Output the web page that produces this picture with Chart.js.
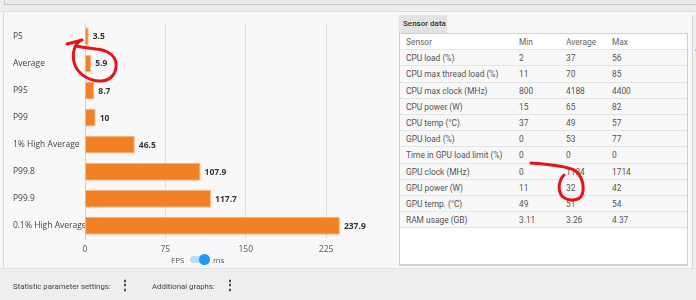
<!DOCTYPE html>
<html>
<head>
<meta charset="utf-8">
<title>Frametime statistics</title>
<script src="https://cdn.jsdelivr.net/npm/chart.js@4.4.0/dist/chart.umd.min.js"></script>
<style>
  body { margin: 0; width: 696px; height: 300px; overflow: hidden; position: relative;
         background: #f8f8f8; font-family: "Open Sans", sans-serif; }
  #topbar { position: absolute; left: 0; top: 0; width: 696px; height: 11px; background: #ededed;
            border-bottom: 1px solid #dcdcdc; }
  #topbar div { position: absolute; left: 4px; top: -1px; width: 700px; height: 5px;
                border-left: 1px solid #c8c8c8; border-bottom: 1px solid #c8c8c8; background: #eaeaea; }
  #leftline { position: absolute; left: 3px; top: 12px; width: 1px; height: 256px; background: #d6d6d6; }
  #chartBox { position: absolute; left: 0; top: 12px; }
  #toggle { position: absolute; top: 252px; left: 170px; height: 15px; font-size: 8px; color: #555;
            font-family: "Open Sans", sans-serif; }
  #toggle .fps { position: absolute; left: 1px; top: 2px; }
  #toggle .track { position: absolute; left: 20px; top: 4px; width: 20px; height: 7px; border-radius: 4px; background: #b9dcf8; }
  #toggle .knob { position: absolute; left: 29px; top: 2px; width: 11px; height: 11px; border-radius: 50%; background: #2196f3; }
  #toggle .ms { position: absolute; left: 43px; top: 2px; }
  #bottombar { position: absolute; left: 0; top: 268px; width: 696px; height: 32px; background: #eeeeee;
               border-top: 1px solid #e2e2e2; font-family: Roboto, sans-serif; font-size: 7.8px; color: #444; }
  #bottombar span { position: absolute; top: 13px; }
  #bottombar .dots { font-size: 12px; font-weight: bold; top: 9px; color: #333; }
  #tab { position: absolute; left: 399px; top: 15px; width: 48px; height: 18px; background: #e3e3e3;
         font-family: Roboto, sans-serif; font-size: 8px; color: #333; line-height: 18px; text-indent: 4px; font-weight: 500; }
  #table { position: absolute; left: 399px; top: 33px; width: 287px; height: 230px; background: #fff;
           border: 1px solid #cfcfcf; border-bottom: 2px solid #cfcfcf; font-family: Roboto, sans-serif; font-size: 8.4px; color: #555; }
  .row { position: absolute; left: 0; width: 287px; height: 16.2px; border-bottom: 1px solid #e4e4e4; box-sizing: border-box; background: #f8f8f8; }
  .row.head { background: #fff; color: #666; }
  .row span { position: absolute; top: 3px; }
  #rightpanel { position: absolute; left: 692px; top: 15px; width: 10px; height: 253px; background: #efefef;
                border-left: 1px solid #d4d4d4; }
  #rightpanel div { position: absolute; left: 2px; top: 34px; width: 3px; height: 2px; background: #b6e34a; }
  svg { position: absolute; left: 0; top: 0; }
</style>
</head>
<body>
<div id="topbar"><div></div></div>
<div id="leftline"></div>
<div id="chartBox"><canvas id="myChart" width="400" height="250"></canvas></div>
<div id="toggle"><span class="fps">FPS</span><div class="track"></div><div class="knob"></div><span class="ms">ms</span></div>
<div id="tab">Sensor data</div>
<div id="table"></div>
<div id="rightpanel"><div></div></div>
<div id="bottombar">
  <span style="left:13px">Statistic parameter settings:</span><span class="dots" style="left:119px">&#8942;</span>
  <span style="left:152px">Additional graphs:</span><span class="dots" style="left:224px">&#8942;</span>
</div>
<svg width="696" height="300">
  <path d="M67,44 C71,43 76,42 82,40 M80,41 C75,44 72,52 74,62 C76,72 88,82 102,81 C112,80 117,72 116,63 C115,55 107,50 96,49 C88,48 80,47 76,46"
        fill="none" stroke="#e3141b" stroke-width="3" stroke-linecap="round"/>
  <path d="M531,163 C545,164 563,165 574,170 C582,175 585,186 582,195 C579,201 568,202 562,196 C558,191 558,181 564,175"
        fill="none" stroke="#e3141b" stroke-width="3" stroke-linecap="round"/>
</svg>
<script>
// bar chart data (frametimes in ms)
const statLabels = ["P5", "Average", "P95", "P99", "1% High Average", "P99.8", "P99.9", "0.1% High Average"];
const msValues = [3.5, 5.9, 8.7, 10, 46.5, 107.9, 117.7, 237.9];
const xTicks = [0, 75, 150, 225];

// sensor table
const sensorHead = ["Sensor", "Min", "Average", "Max"];
const sensorNames = ["CPU load (%)", "CPU max thread load (%)", "CPU max clock (MHz)", "CPU power (W)",
  "CPU temp (°C)", "GPU load (%)", "Time in GPU load limit (%)", "GPU clock (MHz)", "GPU power (W)",
  "GPU temp. (°C)", "RAM usage (GB)"];
const sensorMin = ["2", "11", "800", "15", "37", "0", "0", "0", "11", "49", "3.11"];
const sensorAvg = ["37", "70", "4188", "65", "49", "53", "0", "1184", "32", "51", "3.26"];
const sensorMax = ["56", "85", "4400", "82", "57", "77", "0", "1714", "42", "54", "4.37"];

// build table rows
let tableEl = document.getElementById("table");
let colX = [6, 119, 166, 212];
function addRow(cells, i, head) {
  let rowEl = document.createElement("div");
  rowEl.className = head ? "row head" : "row";
  rowEl.style.top = (i * 16.2) + "px";
  for (let c = 0; c < cells.length; c++) {
    let s = document.createElement("span");
    s.textContent = cells[c];
    s.style.left = colX[c] + "px";
    rowEl.appendChild(s);
  }
  tableEl.appendChild(rowEl);
}
addRow(sensorHead, 0, true);
for (let i = 0; i < sensorNames.length; i++) {
  addRow([sensorNames[i], sensorMin[i], sensorAvg[i], sensorMax[i]], i + 1, false);
}

// values written next to the bars
const valueLabels = {
  id: "valueLabels",
  afterDatasetsDraw(chart) {
    const ctx = chart.ctx;
    const meta = chart.getDatasetMeta(0);
    ctx.save();
    ctx.font = "bold 8.5px 'Open Sans'";
    ctx.fillStyle = "#333";
    ctx.textBaseline = "middle";
    meta.data.forEach((bar, i) => {
      ctx.fillText(String(msValues[i]), bar.x + 4, bar.y + 0.5);
    });
    ctx.restore();
  }
};

new Chart(document.getElementById("myChart"), {
  type: "bar",
  data: {
    labels: statLabels,
    datasets: [{
      data: msValues,
      backgroundColor: "#f28024",
      borderColor: "#f9b784",
      borderWidth: 1,
      barPercentage: 0.66,
      categoryPercentage: 1
    }]
  },
  options: {
    indexAxis: "y",
    responsive: false,
    animation: false,
    layout: { padding: { left: 13, right: 15, top: 11, bottom: 2.5 } },
    plugins: { legend: { display: false }, tooltip: { enabled: false } },
    scales: {
      x: {
        min: 0,
        max: 280,
        afterBuildTicks: (scale) => { scale.ticks = xTicks.map(v => ({ value: v })); },
        grid: { color: "#dedede", drawTicks: false },
        border: { display: false },
        ticks: { padding: 5, color: "#555", font: { family: "Open Sans", size: 8.5 } }
      },
      y: {
        afterFit: (scale) => { scale.width = 72; },
        grid: { display: false },
        border: { color: "#cfcfcf" },
        ticks: { crossAlign: "far", color: "#444", font: { family: "Open Sans", size: 8.5 } }
      }
    }
  },
  plugins: [valueLabels]
});
</script>
</body>
</html>
